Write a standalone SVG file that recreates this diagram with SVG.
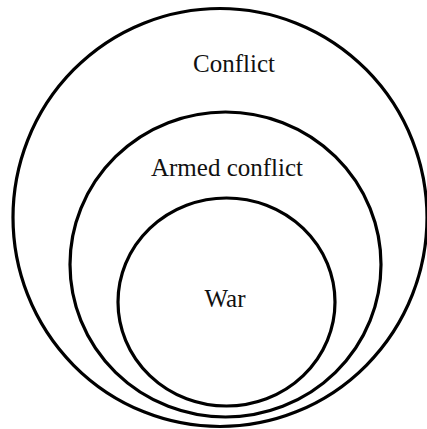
<svg xmlns="http://www.w3.org/2000/svg" width="427" height="429" viewBox="0 0 427 429">
<style>
.c{fill:none;stroke:#000;stroke-width:3.2}
.t{font-family:"Liberation Serif","Times New Roman",serif;font-size:25px;fill:#111;text-anchor:middle}
</style>
<rect width="427" height="429" fill="#fff"/>
<g id="conflict">
<ellipse class="c" cx="220" cy="217.5" rx="207" ry="209"/>
<text class="t" x="234" y="72">Conflict</text>
</g>
<g id="armed-conflict">
<ellipse class="c" cx="225.5" cy="264.5" rx="155.5" ry="152.5"/>
<text class="t" x="227" y="176">Armed conflict</text>
</g>
<g id="war">
<ellipse class="c" cx="226.5" cy="302" rx="108.5" ry="104"/>
<text class="t" x="225" y="307">War</text>
</g>
<g id="connectors"/>
</svg>
